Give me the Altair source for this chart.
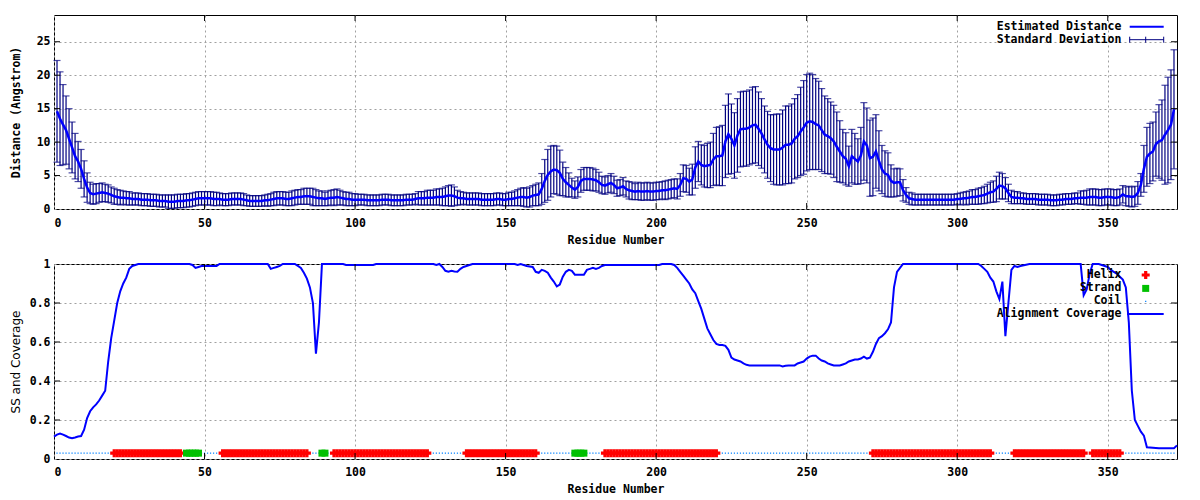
import altair as alt
import pandas as pd

# ---------------- data ----------------
residues = list(range(1, 373))

distance = [
    14.6, 13.5, 12.6, 11.8, 10.5, 9.2, 7.9, 7.1, 6.0, 4.5,
    3.2, 2.4, 2.2, 2.3, 2.4, 2.5, 2.4, 2.3, 2.1, 1.9,
    1.8, 1.7, 1.7, 1.6, 1.6, 1.5, 1.5, 1.5, 1.4, 1.4,
    1.4, 1.3, 1.3, 1.3, 1.2, 1.2, 1.2, 1.1, 1.1, 1.1,
    1.2, 1.2, 1.2, 1.3, 1.3, 1.4, 1.5, 1.6, 1.6, 1.6,
    1.6, 1.6, 1.5, 1.5, 1.5, 1.4, 1.4, 1.4, 1.5, 1.5,
    1.5, 1.5, 1.4, 1.3, 1.2, 1.2, 1.2, 1.2, 1.2, 1.3,
    1.3, 1.4, 1.5, 1.6, 1.6, 1.6, 1.5, 1.5, 1.6, 1.7,
    1.8, 1.8, 1.9, 1.9, 1.9, 1.8, 1.7, 1.6, 1.6, 1.5,
    1.6, 1.7, 1.7, 1.8, 1.7, 1.6, 1.5, 1.5, 1.4, 1.4,
    1.4, 1.4, 1.4, 1.3, 1.3, 1.3, 1.3, 1.3, 1.4, 1.4,
    1.4, 1.3, 1.3, 1.3, 1.3, 1.3, 1.4, 1.4, 1.4, 1.5,
    1.6, 1.6, 1.6, 1.7, 1.7, 1.7, 1.8, 1.8, 1.8, 1.9,
    2.0, 2.0, 1.9, 1.7, 1.6, 1.6, 1.5, 1.5, 1.5, 1.5,
    1.5, 1.4, 1.4, 1.4, 1.4, 1.4, 1.5, 1.5, 1.4, 1.4,
    1.5, 1.5, 1.6, 1.7, 1.8, 1.8, 1.7, 1.8, 2.0, 2.1,
    2.2, 3.0, 4.2, 5.1, 5.6, 5.9, 5.8, 5.4, 4.5, 4.0,
    3.6, 3.2, 2.9, 3.3, 4.2, 4.5, 4.5, 4.5, 4.4, 4.3,
    4.0, 3.6, 3.5, 3.7, 3.9, 3.6, 3.1, 3.2, 3.4, 3.0,
    2.8, 2.7, 2.6, 2.7, 2.6, 2.6, 2.7, 2.6, 2.6, 2.7,
    2.7, 2.8, 2.8, 2.9, 3.0, 3.1, 3.0, 3.6, 4.6, 4.5,
    4.1, 4.4, 6.2, 7.1, 6.6, 6.4, 6.5, 6.6, 7.4, 7.9,
    7.9, 8.0, 10.1, 11.2, 10.5, 9.5, 11.0, 11.9, 12.0, 12.0,
    12.2, 12.5, 12.6, 12.0, 11.3, 10.4, 9.6, 9.1, 8.9, 8.9,
    8.9, 9.2, 9.6, 9.6, 9.8, 10.5, 10.9, 11.6, 12.2, 12.9,
    13.1, 13.0, 12.7, 12.5, 11.8, 11.1, 10.9, 10.6, 10.1, 9.3,
    8.6, 7.9, 7.5, 6.4, 7.9, 7.5, 7.1, 8.0, 10.1, 9.5,
    7.6, 7.8, 8.6, 7.2, 5.9, 5.3, 5.1, 4.2, 3.9, 4.0,
    4.0, 2.8, 2.1, 1.6, 1.5, 1.4, 1.4, 1.4, 1.4, 1.4,
    1.4, 1.4, 1.4, 1.4, 1.4, 1.4, 1.4, 1.4, 1.4, 1.5,
    1.5, 1.6, 1.6, 1.7, 1.8, 1.8, 1.9, 2.0, 2.1, 2.3,
    2.5, 2.6, 3.0, 3.5, 3.4, 3.1, 2.4, 1.8, 1.7, 1.7,
    1.6, 1.6, 1.5, 1.5, 1.5, 1.5, 1.4, 1.4, 1.4, 1.4,
    1.3, 1.3, 1.3, 1.4, 1.4, 1.5, 1.5, 1.5, 1.6, 1.6,
    1.7, 1.7, 1.7, 1.8, 1.8, 1.8, 1.7, 1.7, 1.8, 1.8,
    1.8, 1.7, 1.7, 1.8, 2.2, 1.9, 1.9, 1.8, 1.9, 2.4,
    3.6, 6.0, 7.8, 8.3, 8.6, 9.7, 10.1, 10.3, 11.1, 11.8, 12.6, 14.9,
]

std_dev = [
    7.6, 7.0, 6.0, 5.1, 4.5, 3.8, 3.4, 3.0, 2.9, 2.7,
    2.2, 1.6, 1.5, 1.5, 1.4, 1.4, 1.3, 1.3, 1.2, 1.2,
    1.1, 1.1, 1.0, 1.0, 1.0, 0.9, 0.9, 0.9, 0.9, 0.9,
    0.9, 0.9, 0.9, 0.9, 0.9, 0.9, 0.9, 1.0, 1.0, 1.0,
    1.0, 1.0, 1.0, 1.0, 1.0, 1.0, 1.0, 1.0, 1.0, 1.0,
    1.0, 1.0, 1.0, 1.0, 0.9, 0.9, 0.9, 0.9, 0.9, 0.9,
    0.9, 0.9, 0.9, 0.8, 0.8, 0.8, 0.8, 0.8, 0.8, 0.8,
    0.9, 0.9, 1.0, 1.0, 1.0, 1.0, 1.0, 1.0, 1.1, 1.1,
    1.1, 1.1, 1.2, 1.2, 1.2, 1.3, 1.2, 1.1, 1.1, 1.0,
    1.1, 1.1, 1.2, 1.2, 1.1, 1.0, 1.0, 1.0, 0.9, 0.9,
    0.8, 0.8, 0.8, 0.8, 0.8, 0.8, 0.8, 0.8, 0.8, 0.8,
    0.8, 0.8, 0.8, 0.8, 0.8, 0.8, 0.8, 0.8, 0.8, 0.8,
    1.0, 1.0, 1.0, 1.1, 1.1, 1.1, 1.2, 1.2, 1.3, 1.4,
    1.5, 1.6, 1.4, 1.1, 1.0, 0.9, 0.9, 0.9, 0.9, 0.9,
    0.9, 0.9, 0.9, 0.9, 0.9, 0.9, 0.9, 0.9, 0.9, 0.9,
    1.0, 1.0, 1.1, 1.2, 1.3, 1.4, 1.4, 1.5, 1.5, 1.6,
    1.7, 2.3, 3.2, 3.8, 3.8, 3.6, 3.6, 3.4, 2.5, 2.2,
    1.8, 1.4, 1.3, 1.5, 1.7, 1.7, 1.7, 1.7, 1.7, 1.6,
    1.5, 1.3, 1.3, 1.3, 1.4, 1.3, 1.2, 1.2, 1.3, 1.2,
    1.3, 1.3, 1.2, 1.3, 1.3, 1.3, 1.3, 1.3, 1.3, 1.3,
    1.3, 1.3, 1.4, 1.4, 1.4, 1.4, 1.5, 1.7, 2.0, 2.0,
    2.0, 2.3, 3.1, 3.0, 3.0, 3.1, 3.3, 3.4, 3.9, 4.3,
    4.4, 4.5, 5.4, 6.0, 5.2, 4.9, 5.5, 5.6, 5.6, 5.6,
    5.6, 5.7, 5.7, 5.5, 5.2, 5.0, 5.0, 5.0, 5.2, 5.3,
    5.3, 5.6, 5.8, 5.8, 5.9, 6.0, 6.2, 6.6, 7.0, 7.2,
    7.2, 7.1, 6.8, 6.6, 6.2, 5.8, 5.6, 5.4, 5.4, 5.2,
    4.6, 4.0, 3.9, 3.0, 4.0, 3.8, 3.4, 4.2, 5.8, 5.6,
    5.7, 5.8, 5.5, 4.5, 3.6, 3.4, 3.3, 2.4, 2.1, 2.1,
    2.0, 1.6, 1.1, 0.9, 0.9, 0.8, 0.8, 0.8, 0.8, 0.8,
    0.8, 0.8, 0.8, 0.8, 0.8, 0.8, 0.8, 0.8, 0.8, 0.8,
    0.9, 0.9, 1.0, 1.0, 1.1, 1.1, 1.2, 1.2, 1.3, 1.4,
    1.5, 1.6, 1.9, 2.0, 1.9, 1.6, 1.3, 1.0, 0.9, 0.9,
    0.8, 0.8, 0.8, 0.8, 0.8, 0.8, 0.8, 0.8, 0.8, 0.8,
    0.8, 0.8, 0.8, 0.8, 0.8, 0.8, 0.8, 0.8, 0.8, 0.8,
    1.0, 1.0, 1.1, 1.2, 1.2, 1.2, 1.2, 1.2, 1.2, 1.2,
    1.2, 1.2, 1.2, 1.2, 1.3, 1.4, 1.5, 1.5, 1.5, 1.7,
    1.7, 3.5, 4.4, 4.5, 4.4, 4.8, 5.5, 6.0, 7.4, 7.9, 8.2, 8.9,
]

cov_res = [0, 1, 2, 3, 4, 5, 6, 7, 8, 9, 10, 11, 12, 13, 14, 15, 16, 17, 18, 19,
           20, 21, 22, 23, 24, 25, 26, 27, 28, 45, 46, 47, 48, 49, 54, 55, 71, 72, 73,
           74, 75, 76, 80, 81, 82, 83, 84, 85, 86, 87, 88, 89, 96, 97, 106, 107, 126,
           127, 128, 129, 130, 131, 132, 133, 134, 135, 136, 137, 139, 153, 154, 155,
           157, 159, 160, 161, 162, 163, 164, 165, 166, 167, 168, 169, 170, 171, 172,
           173, 176, 177, 178, 179, 180, 181, 182, 183, 201, 202, 205, 206, 207, 208,
           209, 210, 211, 212, 213, 214, 215, 216, 217, 218, 219, 220, 221, 222, 223,
           224, 225, 226, 227, 228, 229, 230, 231, 241, 242, 243, 244, 246, 247, 248,
           249, 250, 251, 252, 253, 254, 255, 256, 257, 258, 259, 261, 262, 263, 264,
           265, 266, 267, 268, 269, 270, 271, 272, 273, 274, 275, 276, 277, 278, 279,
           280, 281, 282, 307, 308, 309, 310, 311, 312, 313, 314, 315, 316, 317, 318,
           319, 320, 321, 324, 341, 342, 343, 344, 345, 347, 348, 349, 350, 351, 352,
           353, 354, 355, 356, 357, 358, 359, 360, 361, 362, 363, 367, 372, 373]
cov_val = [0.115, 0.125, 0.13, 0.125, 0.118, 0.11, 0.106, 0.11, 0.115, 0.118, 0.15,
           0.21, 0.245, 0.265, 0.28, 0.3, 0.325, 0.35, 0.5, 0.62, 0.71, 0.8, 0.86, 0.9,
           0.93, 0.975, 0.99, 0.995, 1.0, 1.0, 0.995, 0.98, 0.985, 0.99, 0.99, 1.0, 1.0,
           0.975, 0.98, 0.985, 0.99, 1.0, 1.0, 0.99, 0.98, 0.955, 0.925, 0.88, 0.8,
           0.54, 0.7, 1.0, 1.0, 0.995, 0.995, 1.0, 1.0, 0.995, 1.0, 0.985, 0.965, 0.96,
           0.965, 0.962, 0.96, 0.975, 0.985, 0.99, 1.0, 1.0, 0.995, 1.0, 0.99, 0.985,
           0.96, 0.955, 0.97, 0.965, 0.955, 0.93, 0.91, 0.885, 0.895, 0.935, 0.96, 0.97,
           0.965, 0.945, 0.945, 0.97, 0.975, 0.98, 0.975, 0.98, 0.99, 0.995, 0.995, 1.0,
           1.0, 0.995, 0.98, 0.96, 0.94, 0.92, 0.9, 0.87, 0.85, 0.81, 0.77, 0.72, 0.67,
           0.64, 0.61, 0.59, 0.585, 0.585, 0.58, 0.56, 0.52, 0.51, 0.505, 0.5, 0.49,
           0.483, 0.48, 0.48, 0.475, 0.478, 0.48, 0.48, 0.49, 0.495, 0.5, 0.515, 0.525,
           0.53, 0.53, 0.515, 0.505, 0.5, 0.49, 0.485, 0.48, 0.48, 0.485, 0.49, 0.5,
           0.505, 0.51, 0.51, 0.515, 0.525, 0.515, 0.52, 0.55, 0.59, 0.62, 0.63, 0.645,
           0.665, 0.7, 0.88, 0.96, 0.98, 1.0, 1.0, 0.99, 0.975, 0.96, 0.93, 0.91, 0.86,
           0.82, 0.91, 0.63, 0.8, 0.97, 0.99, 0.985, 0.99, 1.0, 1.0, 0.84, 0.87, 0.95,
           1.0, 1.0, 0.995, 0.99, 0.985, 0.97, 0.96, 0.95, 0.935, 0.92, 0.88, 0.7, 0.35,
           0.2, 0.17, 0.14, 0.12, 0.06, 0.055, 0.055, 0.07]

helix_segments = [(20, 42), (56, 84), (93, 124), (137, 160), (183, 220),
                  (272, 311), (319, 342), (345, 354)]
strand_segments = [(44, 48), (89, 90), (173, 176)]
ss_level = 0.03

x_ticks = [0, 50, 100, 150, 200, 250, 300, 350]
top_y_ticks = [0, 5, 10, 15, 20, 25]
bot_y_ticks = [0, 0.2, 0.4, 0.6, 0.8, 1.0]

# ---------------- tables ----------------
dist_df = pd.DataFrame({"res": residues, "dist": distance, "sd": std_dev})
dist_df["lo"] = dist_df["dist"] - dist_df["sd"]
dist_df["hi"] = dist_df["dist"] + dist_df["sd"]

cov_df = pd.DataFrame({"res": cov_res, "cov": cov_val})

ss = []
for r in residues:
    kind = "Coil"
    for a, b in helix_segments:
        if a <= r <= b:
            kind = "Helix"
    for a, b in strand_segments:
        if a <= r <= b:
            kind = "Strand"
    ss.append(kind)
ss_df = pd.DataFrame({"res": residues, "ss": ss, "lvl": ss_level})

xt_df = pd.DataFrame({"res": x_ticks[1:]})
ytt_df = pd.DataFrame({"v": top_y_ticks[1:]})
ytb_df = pd.DataFrame({"v": bot_y_ticks[1:-1]})
one = pd.DataFrame({"k": [0]})

# ---------------- style ----------------
MONO = "DejaVu Sans Mono"
FS = 11.5
W = 1123
H1 = 194
H2 = 195
DB = "#000080"
BLUE = "#0000ff"
TL = 6

xscale = alt.Scale(domain=[0, 373], nice=False, zero=False)
yscale1 = alt.Scale(domain=[0, 29], nice=False, zero=False)
yscale2 = alt.Scale(domain=[0, 1], nice=False, zero=False)

lab = dict(labelFont=MONO, labelFontWeight="bold", labelFontSize=FS)


def xax(pad_label, pad_title):
    return alt.Axis(values=x_ticks, title="Residue Number", grid=True,
                    labelPadding=pad_label, titlePadding=pad_title,
                    titleFont=MONO, titleFontWeight="bold", titleFontSize=FS, **lab)


XAX1 = xax(8, 6)
XAX2 = xax(7, 6)
YAX1 = alt.Axis(values=top_y_ticks, title="Distance (Angstrom)", grid=True,
                labelPadding=4, titlePadding=15,
                titleFont=MONO, titleFontWeight="bold", titleFontSize=FS, **lab)
YAX2 = alt.Axis(values=bot_y_ticks, format="~g", title="SS and Coverage", grid=True,
                labelPadding=4, titlePadding=7,
                titleFont="DejaVu Sans", titleFontWeight="normal", titleFontSize=12, **lab)


def X1(f):
    return alt.X(f, scale=xscale, axis=XAX1)


def Y1(f):
    return alt.Y(f, scale=yscale1, axis=YAX1)


def X2(f):
    return alt.X(f, scale=xscale, axis=XAX2)


def Y2(f):
    return alt.Y(f, scale=yscale2, axis=YAX2)


def inward_ticks(h, X, Y, ydf):
    a = alt.Chart(xt_df).mark_rule(color="black").encode(
        x=X("res:Q"), y=alt.value(h), y2=alt.value(h - TL))
    b = alt.Chart(xt_df).mark_rule(color="black").encode(
        x=X("res:Q"), y=alt.value(0), y2=alt.value(TL))
    c = alt.Chart(ydf).mark_rule(color="black").encode(
        y=Y("v:Q"), x=alt.value(0), x2=alt.value(TL))
    d = alt.Chart(ydf).mark_rule(color="black").encode(
        y=Y("v:Q"), x=alt.value(W), x2=alt.value(W - TL))
    return [a, b, c, d]


def legend_text(label, y):
    return alt.Chart(one).mark_text(align="right", baseline="middle", font=MONO,
                                    fontSize=FS, fontWeight="bold", color="black").encode(
        x=alt.value(W - 55.6), y=alt.value(y), text=alt.value(label))


# ---------------- top panel ----------------
bars = alt.Chart(dist_df).mark_rule(color=DB, strokeWidth=1.2).encode(
    x=X1("res:Q"), y=Y1("lo:Q"), y2="hi:Q")
cap_hi = alt.Chart(dist_df).mark_tick(orient="horizontal", size=7, thickness=1.2, color=DB).encode(
    x=X1("res:Q"), y=Y1("hi:Q"))
cap_lo = alt.Chart(dist_df).mark_tick(orient="horizontal", size=7, thickness=1.2, color=DB).encode(
    x=X1("res:Q"), y=Y1("lo:Q"))
dist_line = alt.Chart(dist_df).mark_line(color=BLUE, strokeWidth=2.5).encode(
    x=X1("res:Q"), y=Y1("dist:Q"))

ly1, ly2 = 11.7, 24.7
leg_top = [
    legend_text("Estimated Distance", ly1),
    legend_text("Standard Deviation", ly2),
    alt.Chart(one).mark_rule(color=BLUE, strokeWidth=2).encode(
        x=alt.value(W - 47.3), x2=alt.value(W - 13.3), y=alt.value(ly1)),
    alt.Chart(one).mark_rule(color=DB, strokeWidth=1).encode(
        x=alt.value(W - 47.3), x2=alt.value(W - 13.3), y=alt.value(ly2)),
    alt.Chart(one).mark_rule(color=DB, strokeWidth=1).encode(
        x=alt.value(W - 47.3), y=alt.value(ly2 - 3), y2=alt.value(ly2 + 3)),
    alt.Chart(one).mark_rule(color=DB, strokeWidth=1).encode(
        x=alt.value(W - 31.3), y=alt.value(ly2 - 3), y2=alt.value(ly2 + 3)),
    alt.Chart(one).mark_rule(color=DB, strokeWidth=1).encode(
        x=alt.value(W - 13.3), y=alt.value(ly2 - 3), y2=alt.value(ly2 + 3)),
]

top = alt.layer(bars, cap_hi, cap_lo, dist_line,
                *inward_ticks(H1, X1, Y1, ytt_df), *leg_top).properties(width=W, height=H1)

# ---------------- bottom panel ----------------
cov_line = alt.Chart(cov_df).mark_line(color=BLUE, strokeWidth=2).encode(
    x=X2("res:Q"), y=Y2("cov:Q"))
coil = alt.Chart(ss_df).transform_filter(alt.datum.ss == "Coil").mark_point(
    shape="square", filled=True, size=1.5, color="#0080ff", opacity=1).encode(
    x=X2("res:Q"), y=Y2("lvl:Q"))
helix = alt.Chart(ss_df).transform_filter(alt.datum.ss == "Helix").mark_point(
    shape="cross", filled=True, size=64, color="#ff0000", opacity=1).encode(
    x=X2("res:Q"), y=Y2("lvl:Q"))
strand = alt.Chart(ss_df).transform_filter(alt.datum.ss == "Strand").mark_point(
    shape="square", filled=True, size=49, color="#00c000", opacity=1).encode(
    x=X2("res:Q"), y=Y2("lvl:Q"))

r1, r2, r3, r4 = 11, 24.4, 37.4, 50
leg_bot = [
    legend_text("Helix", r1),
    legend_text("Strand", r2),
    legend_text("Coil", r3),
    legend_text("Alignment Coverage", r4),
    alt.Chart(one).mark_point(shape="cross", filled=True, size=64, color="#ff0000", opacity=1).encode(
        x=alt.value(W - 31.3), y=alt.value(r1)),
    alt.Chart(one).mark_point(shape="square", filled=True, size=49, color="#00c000", opacity=1).encode(
        x=alt.value(W - 31.3), y=alt.value(r2)),
    alt.Chart(one).mark_point(shape="square", filled=True, size=1.5, color="#0080ff", opacity=1).encode(
        x=alt.value(W - 31.3), y=alt.value(r3)),
    alt.Chart(one).mark_rule(color=BLUE, strokeWidth=2).encode(
        x=alt.value(W - 50), x2=alt.value(W - 13.3), y=alt.value(r4)),
]

bottom = alt.layer(coil, helix, strand, cov_line,
                   *inward_ticks(H2, X2, Y2, ytb_df), *leg_bot).properties(width=W, height=H2)

chart = alt.vconcat(top, bottom, spacing=10).properties(
    padding={"left": 0, "top": 6, "right": 5, "bottom": 0}
).configure_view(stroke="black", strokeWidth=1).configure_axis(
    domain=False, ticks=False, gridColor="#a0a0a0", gridDash=[2, 3], gridWidth=1,
    labelColor="black", titleColor="black"
)

chart.save("out.html", embed_options={"renderer": "svg", "actions": False})
